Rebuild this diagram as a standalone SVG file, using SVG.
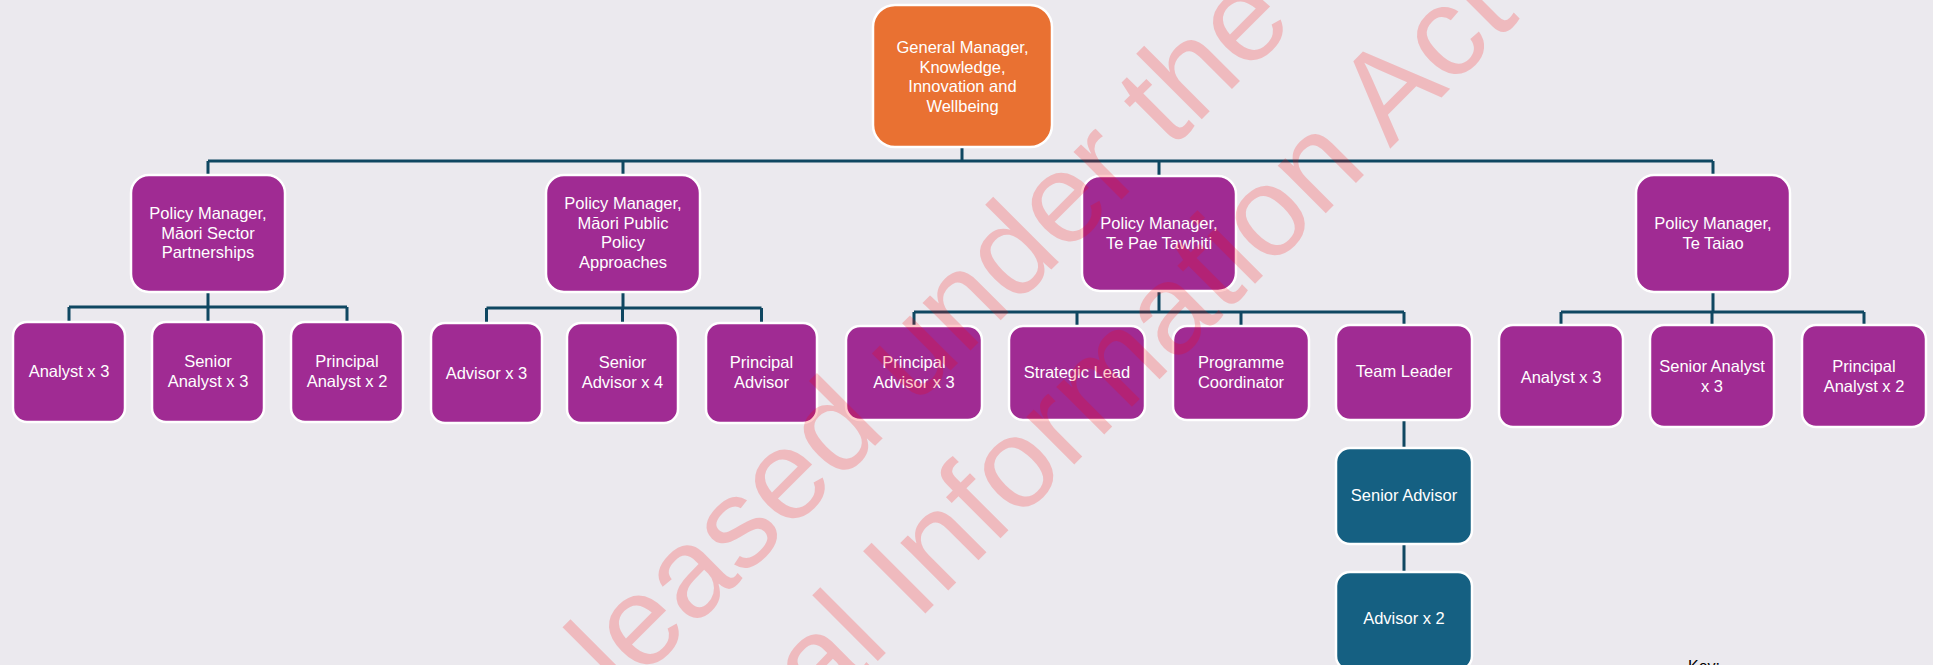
<svg xmlns="http://www.w3.org/2000/svg" width="1933" height="665" viewBox="0 0 1933 665">
<style>
  .bg{fill:#EBE9EE}
  .box{stroke:#FFFFFF;stroke-width:2.5}
  .gm{fill:#E97132}
  .pm{fill:#A02B93}
  .tl{fill:#156082}
  .lbl{font-family:"Liberation Sans",Arial,sans-serif;font-size:16.5px;fill:#FFFFFF;text-anchor:middle}
  .conn{fill:none;stroke:#0F4761;stroke-width:3}
  .wm{font-family:"Liberation Sans",Arial,sans-serif;font-size:128px;fill:#FF0000;fill-opacity:0.2}
  .key{font-family:"Liberation Sans",Arial,sans-serif;font-size:16px;fill:#000000}
</style>
<rect class="bg" x="0" y="0" width="1933" height="665"/>

<g id="connectors">
  <path class="conn" d="M962,147 V161 M208,161 H1713 M208,161 V175 M623,161 V175 M1159,161 V176 M1713,161 V175"/>
  <path class="conn" d="M208,292 V307 M69,307 H347 M69,307 V322 M208,307 V322 M347,307 V322"/>
  <path class="conn" d="M623,292 V308 M486.5,308 H761.5 M486.5,308 V323 M622.5,308 V323 M761.5,308 V323"/>
  <path class="conn" d="M1159,291 V312 M914,312 H1404 M914,312 V326 M1077,312 V326 M1241,312 V326 M1404,312 V325"/>
  <path class="conn" d="M1713,292 V312 M1561,312 H1864 M1561,312 V325 M1712,312 V325 M1864,312 V325"/>
  <path class="conn" d="M1404,420 V448 M1404,544 V572"/>
</g>

<g id="gm">
  <rect class="box gm" x="873" y="5" width="179" height="142" rx="22"/>
  <text class="lbl" x="962.5" y="53">General Manager,<tspan x="962.5" dy="19.5">Knowledge,</tspan><tspan x="962.5" dy="19.5">Innovation and</tspan><tspan x="962.5" dy="19.5">Wellbeing</tspan></text>
</g>

<g id="pm-msp">
  <rect class="box pm" x="131" y="175" width="154" height="117" rx="18"/>
  <text class="lbl" x="208" y="219">Policy Manager,<tspan x="208" dy="19.5">Māori Sector</tspan><tspan x="208" dy="19.5">Partnerships</tspan></text>
</g>
<g id="pm-mppa">
  <rect class="box pm" x="546" y="175" width="154" height="117" rx="18"/>
  <text class="lbl" x="623" y="209">Policy Manager,<tspan x="623" dy="19.5">Māori Public</tspan><tspan x="623" dy="19.5">Policy</tspan><tspan x="623" dy="19.5">Approaches</tspan></text>
</g>
<g id="pm-tpt">
  <rect class="box pm" x="1082" y="176" width="154" height="115" rx="18"/>
  <text class="lbl" x="1159" y="229">Policy Manager,<tspan x="1159" dy="19.5">Te Pae Tawhiti</tspan></text>
</g>
<g id="pm-tt">
  <rect class="box pm" x="1636" y="175" width="154" height="117" rx="18"/>
  <text class="lbl" x="1713" y="229">Policy Manager,<tspan x="1713" dy="19.5">Te Taiao</tspan></text>
</g>

<g id="g1-analyst">
  <rect class="box pm" x="13" y="322" width="112" height="100" rx="14"/>
  <text class="lbl" x="69" y="377">Analyst x 3</text>
</g>
<g id="g1-senior-analyst">
  <rect class="box pm" x="152" y="322" width="112" height="100" rx="14"/>
  <text class="lbl" x="208" y="367">Senior<tspan x="208" dy="19.5">Analyst x 3</tspan></text>
</g>
<g id="g1-principal-analyst">
  <rect class="box pm" x="291" y="322" width="112" height="100" rx="14"/>
  <text class="lbl" x="347" y="367">Principal<tspan x="347" dy="19.5">Analyst x 2</tspan></text>
</g>

<g id="g2-advisor">
  <rect class="box pm" x="431" y="323" width="111" height="100" rx="14"/>
  <text class="lbl" x="486.5" y="379">Advisor x 3</text>
</g>
<g id="g2-senior-advisor">
  <rect class="box pm" x="567" y="323" width="111" height="100" rx="14"/>
  <text class="lbl" x="622.5" y="368">Senior<tspan x="622.5" dy="19.5">Advisor x 4</tspan></text>
</g>
<g id="g2-principal-advisor">
  <rect class="box pm" x="706" y="323" width="111" height="100" rx="14"/>
  <text class="lbl" x="761.5" y="368">Principal<tspan x="761.5" dy="19.5">Advisor</tspan></text>
</g>

<g id="g3-principal-advisor">
  <rect class="box pm" x="846" y="326" width="136" height="94" rx="14"/>
  <text class="lbl" x="914" y="368">Principal<tspan x="914" dy="19.5">Advisor x 3</tspan></text>
</g>
<g id="g3-strategic-lead">
  <rect class="box pm" x="1009" y="326" width="136" height="94" rx="14"/>
  <text class="lbl" x="1077" y="378">Strategic Lead</text>
</g>
<g id="g3-programme-coordinator">
  <rect class="box pm" x="1173" y="326" width="136" height="94" rx="14"/>
  <text class="lbl" x="1241" y="368">Programme<tspan x="1241" dy="19.5">Coordinator</tspan></text>
</g>
<g id="g3-team-leader">
  <rect class="box pm" x="1336" y="325" width="136" height="95" rx="14"/>
  <text class="lbl" x="1404" y="377">Team Leader</text>
</g>
<g id="g3-senior-advisor">
  <rect class="box tl" x="1336" y="448" width="136" height="96" rx="14"/>
  <text class="lbl" x="1404" y="501">Senior Advisor</text>
</g>
<g id="g3-advisor">
  <rect class="box tl" x="1336" y="572" width="136" height="98" rx="14"/>
  <text class="lbl" x="1404" y="624">Advisor x 2</text>
</g>

<g id="g4-analyst">
  <rect class="box pm" x="1499" y="325" width="124" height="102" rx="14"/>
  <text class="lbl" x="1561" y="383">Analyst x 3</text>
</g>
<g id="g4-senior-analyst">
  <rect class="box pm" x="1650" y="325" width="124" height="102" rx="14"/>
  <text class="lbl" x="1712" y="372">Senior Analyst<tspan x="1712" dy="19.5">x 3</tspan></text>
</g>
<g id="g4-principal-analyst">
  <rect class="box pm" x="1802" y="325" width="124" height="102" rx="14"/>
  <text class="lbl" x="1864" y="372">Principal<tspan x="1864" dy="19.5">Analyst x 2</tspan></text>
</g>

<text class="key" x="1688" y="672">Key:</text>

<text class="wm" transform="translate(506,815) rotate(-45)"><tspan x="164" y="0">leased under the</tspan><tspan x="292" y="154">al Information Act</tspan></text>
</svg>
